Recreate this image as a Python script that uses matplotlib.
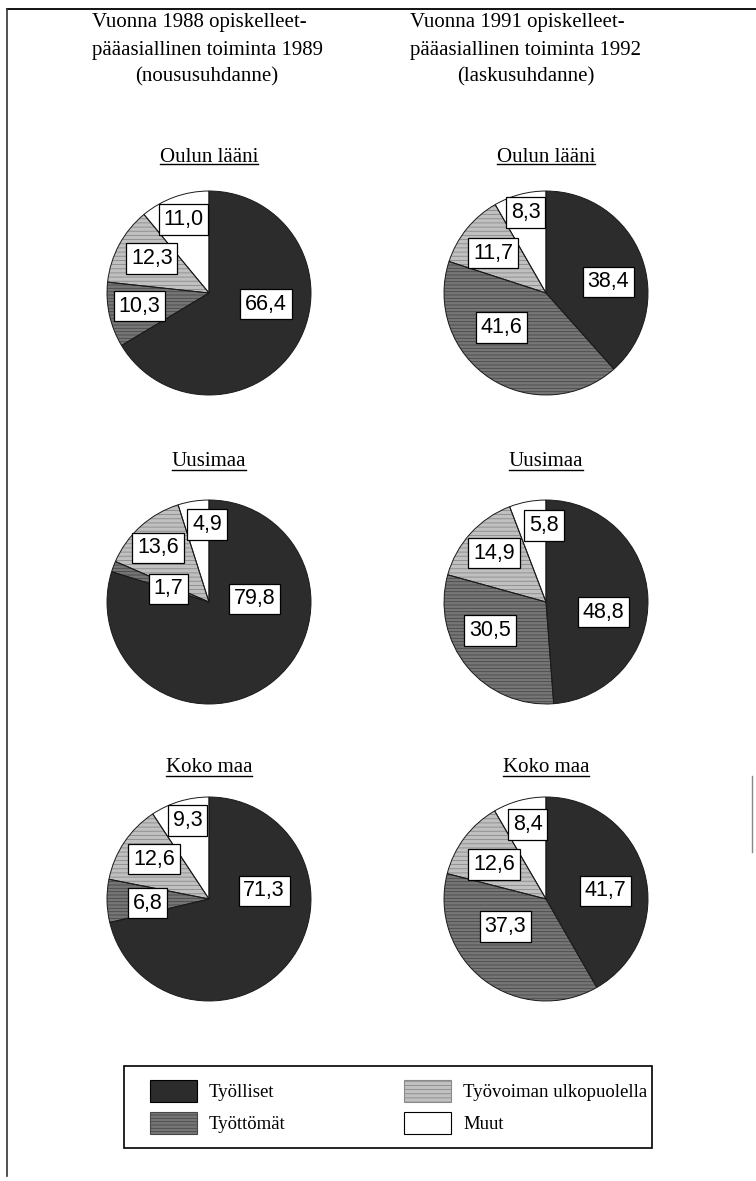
import matplotlib.pyplot as plt
from matplotlib.patches import Patch, Rectangle
from matplotlib.lines import Line2D

# data
categories = ["Työlliset", "Työttömät", "Työvoiman ulkopuolella", "Muut"]
oulu_1989 = [66.4, 10.3, 12.3, 11.0]
oulu_1992 = [38.4, 41.6, 11.7, 8.3]
uusimaa_1989 = [79.8, 1.7, 13.6, 4.9]
uusimaa_1992 = [48.8, 30.5, 14.9, 5.8]
koko_1989 = [71.3, 6.8, 12.6, 9.3]
koko_1992 = [41.7, 37.3, 12.6, 8.4]
regions = ["Oulun lääni", "Uusimaa", "Koko maa"]

""" styles """
faces = ["#2c2c2c", "#767676", "#c0c0c0", "#ffffff"]
hatch_cols = ["#2c2c2c", "#484848", "#8a8a8a", "#ffffff"]
hatches = ["", "-----", "----", ""]

plt.rcParams["hatch.linewidth"] = 0.6
serif = "Liberation Serif"
sans = "Liberation Sans"

W, H = 756, 1181
fig = plt.figure(figsize=(W / 100, H / 100), dpi=100)

def fx(x):
    return x / W

def fy(y):
    return 1 - y / H

""" frame lines """
fig.add_artist(Line2D([fx(7), fx(756)], [fy(9), fy(9)], color="black", lw=1.3))
fig.add_artist(Line2D([fx(7), fx(7)], [fy(9), fy(1176)], color="#333333", lw=1.2))
fig.add_artist(Line2D([fx(752), fx(752)], [fy(776), fy(852)], color="#888888", lw=1.0))

""" header """
head_l = ["Vuonna 1988 opiskelleet-", "pääasiallinen toiminta 1989", "(noususuhdanne)"]
head_r = ["Vuonna 1991 opiskelleet-", "pääasiallinen toiminta 1992", "(laskusuhdanne)"]
for x0, xc, lines in [(92, 207, head_l), (410, 526, head_r)]:
    fig.text(fx(x0), fy(23), lines[0], family=serif, fontsize=15, va="center")
    fig.text(fx(x0), fy(50), lines[1], family=serif, fontsize=15, va="center")
    fig.text(fx(xc), fy(77), lines[2], family=serif, fontsize=15, va="center", ha="center")

# label offsets inside each pie (radius units) - layout only
label_xy = [
    [(0.56, -0.11), (-0.68, -0.13), (-0.56, 0.34), (-0.25, 0.72)],
    [(0.61, 0.11), (-0.44, -0.34), (-0.52, 0.39), (-0.20, 0.79)],
    [(0.45, 0.03), (-0.40, 0.13), (-0.50, 0.53), (-0.02, 0.76)],
    [(0.56, -0.10), (-0.55, -0.28), (-0.51, 0.48), (-0.02, 0.75)],
    [(0.54, 0.08), (-0.60, -0.04), (-0.54, 0.39), (-0.21, 0.77)],
    [(0.58, 0.08), (-0.40, -0.27), (-0.51, 0.34), (-0.18, 0.73)],
]

pies = [oulu_1989, oulu_1992, uusimaa_1989, uusimaa_1992, koko_1989, koko_1992]
col_x = [209, 546]
row_y = [293, 602, 899]
title_y = [157, 462, 768]
R = 103

titles = []
for i, vals in enumerate(pies):
    row, col = i // 2, i % 2
    cx, cy = col_x[col], row_y[row]
    ax = fig.add_axes([fx(cx - R), fy(cy + R), 2 * R / W, 2 * R / H])
    wedges, _ = ax.pie(vals, colors=faces, startangle=90, counterclock=False,
                       hatch=hatches, wedgeprops=dict(linewidth=0))
    for w, hc in zip(wedges, hatch_cols):
        w.set_edgecolor(hc)
    # thin outline on top
    ax.pie(vals, colors=["none"] * 4, startangle=90, counterclock=False,
           wedgeprops=dict(edgecolor="#1a1a1a", linewidth=0.7, fill=False))
    for v, (lx, ly) in zip(vals, label_xy[i]):
        ax.text(lx, ly, f"{v:.1f}".replace(".", ","), family=sans, fontsize=15.5,
                ha="center", va="center",
                bbox=dict(boxstyle="square,pad=0.22", fc="white", ec="black", lw=0.9))
    ax.set_xlim(-1.01, 1.01)
    ax.set_ylim(-1.01, 1.01)
    ax.axis("off")
    t = fig.text(fx(cx), fy(title_y[row]), regions[row], family=serif, fontsize=15,
                 ha="center", va="center")
    titles.append(t)

""" legend: own frame, frameless legend inside """
fig.add_artist(Rectangle((fx(124), fy(1148)), (652 - 124) / W, (1148 - 1066) / H,
                         transform=fig.transFigure, fill=False, ec="black", lw=1.2))
handles = [Patch(facecolor=f, edgecolor=e if h else "black", hatch=h, linewidth=0.8)
           for f, e, h in zip(faces, hatch_cols, hatches)]
fig.legend(handles, categories, ncol=2, loc="center left",
           bbox_to_anchor=(fx(150), fy(1107)), frameon=False, borderpad=0, borderaxespad=0,
           prop=dict(family=serif, size=13.5),
           handlelength=2.5, handleheight=1.4, handletextpad=0.65,
           columnspacing=6.3, labelspacing=0.55)

""" underline titles """
fig.canvas.draw()
rend = fig.canvas.get_renderer()
for t in titles:
    bb = t.get_window_extent(rend)
    yl = (bb.y0 + 2) / H
    fig.add_artist(Line2D([bb.x0 / W, bb.x1 / W], [yl, yl], color="black", lw=1.0))

fig.savefig("out.png", dpi=100, facecolor="white")
